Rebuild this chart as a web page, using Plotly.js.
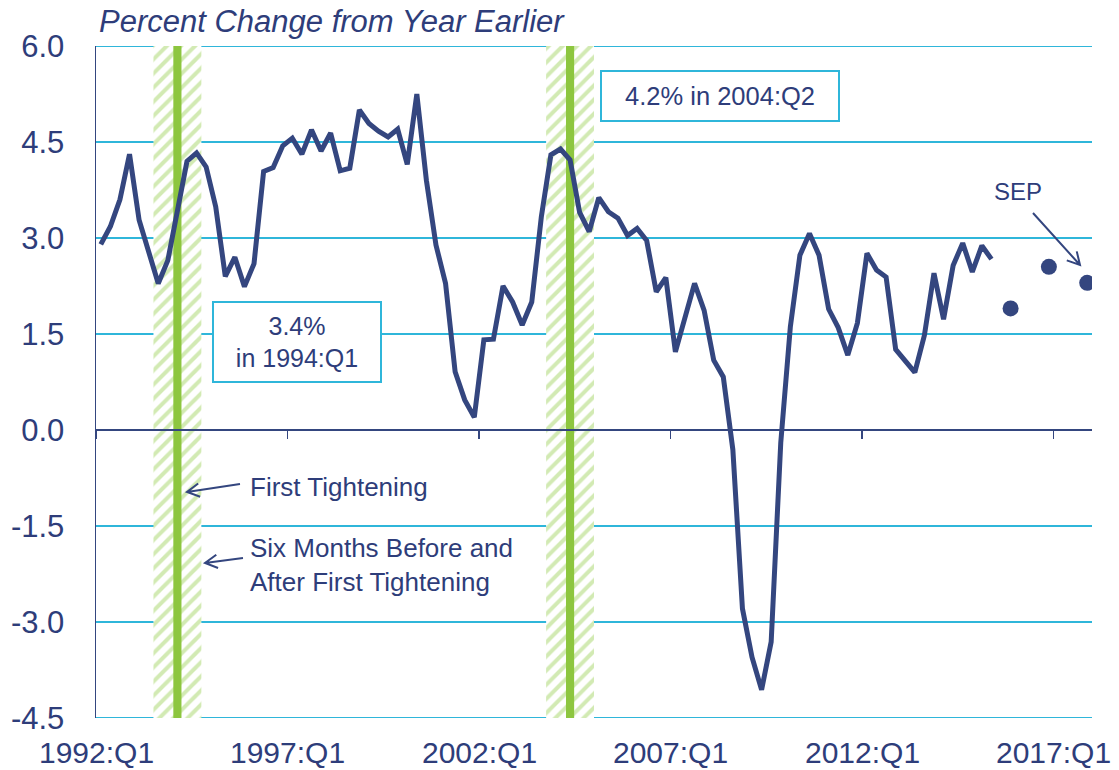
<!DOCTYPE html>
<html><head><meta charset="utf-8">
<script src="https://cdn.plot.ly/plotly-3.0.1.min.js"></script>
<style>html,body{margin:0;padding:0;background:#fff}#chart{width:1119px;height:770px}</style>
</head><body><div id="chart"></div>
<script>
// Real GDP, percent change from year earlier; quarter index 0 = 1992:Q1
const gdpGrowth = [
  2.9, 3.18, 3.6, 4.31, 3.28, 2.8, 2.29, 2.65, 3.4, 4.2,
  4.33, 4.11, 3.49, 2.40, 2.70, 2.24, 2.60, 4.04, 4.10, 4.44,
  4.56, 4.31, 4.69, 4.36, 4.64, 4.05, 4.09, 5.0, 4.79, 4.67,
  4.58, 4.70, 4.15, 5.25, 3.9, 2.89, 2.29, 0.91, 0.47, 0.20,
  1.41, 1.42, 2.25, 2.0, 1.64, 2.0, 3.33, 4.30, 4.39, 4.22,
  3.40, 3.10, 3.63, 3.41, 3.31, 3.04, 3.15, 2.96, 2.16, 2.38,
  1.22, 1.76, 2.29, 1.87, 1.09, 0.83, -0.31, -2.79, -3.55, -4.06,
  -3.31, -0.2, 1.61, 2.73, 3.07, 2.73, 1.89, 1.6, 1.17, 1.67,
  2.76, 2.5, 2.39, 1.26, 1.08, 0.90, 1.48, 2.45, 1.73, 2.57,
  2.92, 2.47, 2.88, 2.67
];
const gdpQuarterIdx = gdpGrowth.map((_, i) => i);

// SEP projections (Q4 of 2015, 2016, 2017)
const sepQuarterIdx = [95, 99, 103];
const sepValues = [1.9, 2.55, 2.3];

// First tightening: 1994:Q1 and 2004:Q2
const tighteningIdx = [8, 49];
const windowQuarters = 5; // six months before and after

// Axis ticks
const xTickIdx = [-0.5, 19.5, 39.5, 59.5, 79.5, 99.5];
const xTickLabels = ['1992:Q1', '1997:Q1', '2002:Q1', '2007:Q1', '2012:Q1', '2017:Q1'];
const yTickVals = [-4.5, -3.0, -1.5, 0.0, 1.5, 3.0, 4.5, 6.0];
const yTickLabels = ['-4.5', '-3.0', '-1.5', '0.0', '1.5', '3.0', '4.5', '6.0'];

const yMin = -4.5, yMax = 6.0;
const navy = '#34467F';
const textNavy = '#2E3D7A';
const cyan = '#2FB6DA';
const green = '#8DC63F';
const lightGreen = '#D2EAB3';
const FONT = 'Liberation Sans, Arial, sans-serif';

// pixel helpers for decorations (plot area 96..1092 x 46..718)
const L = 96, R = 1092, T = 46, B = 718;
const PX = p => (p - L) / (R - L);
const PY = p => (B - p) / (B - T);

function arrowPath(x0, y0, x1, y1) {
  const ang = Math.atan2(y0 - y1, x0 - x1);
  const len = 14, spread = 0.5;
  const ax = x1 + len * Math.cos(ang + spread), ay = y1 + len * Math.sin(ang + spread);
  const bx = x1 + len * Math.cos(ang - spread), by = y1 + len * Math.sin(ang - spread);
  return `M ${PX(x0)},${PY(y0)} L ${PX(x1)},${PY(y1)} M ${PX(ax)},${PY(ay)} L ${PX(x1)},${PY(y1)} L ${PX(bx)},${PY(by)}`;
}

const traces = [
  {
    type: 'bar', x: tighteningIdx, y: tighteningIdx.map(() => yMax - yMin),
    base: tighteningIdx.map(() => yMin), width: windowQuarters,
    marker: { color: 'white', line: { width: 0 },
      pattern: { shape: '/', fgcolor: lightGreen, bgcolor: 'white', size: 10, solidity: 0.4 } },
    hoverinfo: 'skip', showlegend: false
  },
  {
    type: 'bar', x: tighteningIdx, y: tighteningIdx.map(() => yMax - yMin),
    base: tighteningIdx.map(() => yMin), width: 0.85,
    marker: { color: green, line: { width: 0 } },
    hoverinfo: 'skip', showlegend: false
  },
  {
    type: 'scatter', mode: 'lines', x: gdpQuarterIdx, y: gdpGrowth,
    line: { color: navy, width: 5 }, showlegend: false
  },
  {
    type: 'scatter', mode: 'markers', x: sepQuarterIdx, y: sepValues,
    marker: { color: navy, size: 16 }, showlegend: false
  }
];

const txt = (size) => ({ family: FONT, size: size, color: textNavy });

const annotations = [
  { xref: 'paper', yref: 'paper', x: PX(97), y: PY(22), xanchor: 'left', yanchor: 'middle',
    text: '<i>Percent Change from Year Earlier</i>', showarrow: false, font: txt(31) },
  { xref: 'paper', yref: 'paper', x: PX(297), y: PY(342), xanchor: 'center', yanchor: 'middle',
    text: '3.4%<br>in 1994:Q1', showarrow: false, font: txt(25), align: 'center',
    bgcolor: 'white', bordercolor: cyan, borderwidth: 2, width: 164, height: 76 },
  { xref: 'paper', yref: 'paper', x: PX(720), y: PY(96), xanchor: 'center', yanchor: 'middle',
    text: '4.2% in 2004:Q2', showarrow: false, font: txt(25.5), align: 'center',
    bgcolor: 'white', bordercolor: cyan, borderwidth: 2, width: 234, height: 46 },
  { xref: 'paper', yref: 'paper', x: PX(248), y: PY(487), xanchor: 'left', yanchor: 'middle',
    text: 'First Tightening', showarrow: false, font: txt(26) },
  { xref: 'paper', yref: 'paper', x: PX(248), y: PY(565), xanchor: 'left', yanchor: 'middle',
    text: 'Six Months Before and<br>After First Tightening', showarrow: false, font: txt(26), align: 'left' },
  { xref: 'paper', yref: 'paper', x: PX(1018), y: PY(191), xanchor: 'center', yanchor: 'middle',
    text: 'SEP', showarrow: false, font: txt(24) }
];
xTickIdx.forEach((v, k) => annotations.push({
  xref: 'x', yref: 'paper', x: v, y: PY(752), xanchor: 'center', yanchor: 'middle',
  text: xTickLabels[k], showarrow: false, font: txt(30)
}));

const shapes = [
  // edge gridlines (6.0 and -4.5)
  { type: 'line', xref: 'paper', yref: 'y', x0: 0, x1: 1, y0: yMax, y1: yMax, layer: 'below', line: { color: cyan, width: 2 } },
  { type: 'line', xref: 'paper', yref: 'y', x0: 0, x1: 1, y0: yMin, y1: yMin, layer: 'below', line: { color: cyan, width: 2 } },
  { type: 'path', xref: 'paper', yref: 'paper', path: arrowPath(240, 484, 187, 492), line: { color: navy, width: 2 } },
  { type: 'path', xref: 'paper', yref: 'paper', path: arrowPath(243, 558, 205, 563), line: { color: navy, width: 2 } },
  { type: 'path', xref: 'paper', yref: 'paper', path: arrowPath(1033, 213, 1080, 265), line: { color: navy, width: 2 } }
];

const layout = {
  width: 1119, height: 770,
  margin: { l: L, r: 1119 - R, t: T, b: 770 - B, pad: 0 },
  paper_bgcolor: 'white', plot_bgcolor: 'white',
  barmode: 'overlay', showlegend: false,
  font: { family: FONT, color: textNavy },
  xaxis: {
    type: 'linear', range: [-0.5, 103.5], anchor: 'free', position: (0 - yMin) / (yMax - yMin),
    showline: true, linecolor: navy, linewidth: 2,
    ticks: 'outside', tickvals: xTickIdx, ticklen: 8, tickwidth: 1.5, tickcolor: navy,
    showticklabels: false, showgrid: false, zeroline: false, fixedrange: true
  },
  yaxis: {
    range: [yMin, yMax], tickvals: yTickVals, ticktext: yTickLabels,
    showline: true, linecolor: navy, linewidth: 1.5,
    showgrid: true, gridcolor: cyan, gridwidth: 2, zeroline: false,
    ticks: '', ticklabelstandoff: 24,
    tickfont: { family: FONT, size: 31, color: textNavy }, fixedrange: true
  },
  annotations: annotations,
  shapes: shapes
};

Plotly.newPlot('chart', traces, layout, { displayModeBar: false, staticPlot: true });
</script>
</body></html>
